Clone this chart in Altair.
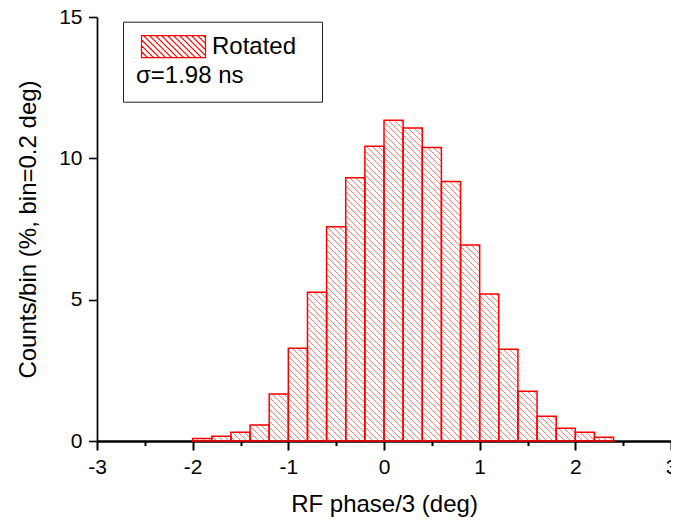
import math
import altair as alt
import pandas as pd

# ---------------- data ----------------
bin_lo = [-2.0, -1.8, -1.6, -1.4, -1.2, -1.0, -0.8, -0.6, -0.4, -0.2, 0.0,
          0.2, 0.4, 0.6, 0.8, 1.0, 1.2, 1.4, 1.6, 1.8, 2.0, 2.2]
counts = [0.09, 0.17, 0.31, 0.57, 1.66, 3.28, 5.26, 7.58, 9.31, 10.43, 11.35,
          11.07, 10.38, 9.18, 6.93, 5.20, 3.25, 1.76, 0.88, 0.45, 0.31, 0.13]
BIN_W = 0.2
series_name = "Rotated"
legend_note = "\u03c3=1.98 ns"
x_ticks = [-3, -2, -1, 0, 1, 2, 3]
x_minor = [-2.5, -1.5, -0.5, 0.5, 1.5, 2.5]
y_ticks = [0, 5, 10, 15]
x_title = "RF phase/3 (deg)"
y_title = "Counts/bin (%, bin=0.2 deg)"

# ---------------- layout / style ----------------
W, H = 574, 424
XDOM = [-3, 3]
YDOM = [0, 15]
FONT = "Liberation Sans"
RED = "#ff0000"
HATCH = 6.0  # px between hatch lines (horizontal)

sx = W / (XDOM[1] - XDOM[0])
sy = H / (YDOM[1] - YDOM[0])

bars = pd.DataFrame({
    "lo": bin_lo,
    "hi": [b + BIN_W for b in bin_lo],
    "v": counts,
    "series": series_name,
})

# hatch segments ("\\" pattern, 45 degrees in pixel space), clipped to each bar
segs = []
for lo, hi, v in zip(bars["lo"], bars["hi"], bars["v"]):
    u0 = (lo - XDOM[0]) * sx
    u1 = (hi - XDOM[0]) * sx
    hh = v * sy
    k = math.floor(u0 / HATCH) * HATCH
    while k < u1 + hh + HATCH:
        ua = max(u0, k - hh)
        ub = min(u1, k)
        if ub - ua > 0.3:
            segs.append({
                "x": XDOM[0] + ua / sx, "y": (k - ua) / sy,
                "x2": XDOM[0] + ub / sx, "y2": (k - ub) / sy,
            })
        k += HATCH
segdf = pd.DataFrame(segs)

# legend swatch path (unit = sqrt(size)/2 px)
SYM = 22.0
unit = SYM / 2
hw = 32.0 / unit
parts = [f"M{-hw:.3f},-1H{hw:.3f}V1H{-hw:.3f}Z"]
step = HATCH / unit
t = -hw - 2
while t < hw:
    xa = max(-hw, t)
    xb = min(hw, t + 2)
    if xb - xa > 0.02:
        parts.append(f"M{xa:.3f},{xa - t - 1:.3f}L{xb:.3f},{xb - t - 1:.3f}")
    t += step
# invisible move-to that widens the legend box to the reference's width
parts.append(f"M{133.0 / unit:.3f},0")
swatch_path = "".join(parts)

xscale = alt.Scale(domain=XDOM, nice=False, zero=False, padding=0)
yscale = alt.Scale(domain=YDOM, nice=False, padding=0)

x_axis = alt.Axis(
    values=sorted(x_ticks + x_minor),
    labelExpr="datum.value % 1 === 0 ? '' + datum.value : ''",
    tickSize={"condition": {"test": "datum.value % 1 !== 0", "value": 4.5}, "value": 9},
    tickWidth=2, domainWidth=2.4, domainColor="black", tickColor="black",
    labelFontSize=21, labelColor="black", labelPadding=6, labelFlush=False,
    labelOverlap=False, grid=False, orient="bottom",
    title=x_title, titleFontSize=24, titleFontWeight="normal", titleColor="black",
    titlePadding=15.5,
)
y_axis = alt.Axis(
    values=y_ticks, tickSize=8.5, tickWidth=1.6, domainWidth=1.7,
    domainColor="black", tickColor="black",
    labelFontSize=21, labelColor="black", labelPadding=6.5, grid=False,
    title=y_title, titleFontSize=24, titleFontWeight="normal", titleColor="black",
    titlePadding=18,
)

hatch = alt.Chart(segdf).mark_rule(color=RED, opacity=0.5, strokeWidth=1).encode(
    x=alt.X("x:Q", scale=xscale, axis=x_axis),
    y=alt.Y("y:Q", scale=yscale, axis=y_axis),
    x2="x2:Q",
    y2="y2:Q",
)

bar = alt.Chart(bars).mark_rect(fill="transparent", strokeWidth=1.5).encode(
    x=alt.X("lo:Q", scale=xscale, axis=x_axis),
    x2="hi:Q",
    y=alt.Y("v:Q", scale=yscale, axis=y_axis),
    y2=alt.datum(0),
    stroke=alt.Stroke(
        "series:N",
        scale=alt.Scale(range=[RED]),
        legend=alt.Legend(
            orient="none", legendX=26, legendY=4.7,
            strokeColor="#222", fillColor="white", padding=13,
            symbolType=swatch_path, symbolSize=SYM * SYM, symbolStrokeWidth=1.2,
            symbolFillColor="transparent", symbolOffset=25.5, labelOffset=26.5,
            labelFont=FONT, labelFontSize=24, labelColor="black",
            title=legend_note, titleOrient="bottom", titleAnchor="start",
            titleFont=FONT, titleFontSize=24, titleFontWeight="normal",
            titleColor="black", titlePadding=4.5,
        ),
    ),
)

chart = alt.layer(hatch, bar).properties(
    width=W, height=H,
    autosize=alt.AutoSizeParams(type="none"),
    padding={"left": 89, "top": 9, "right": 0, "bottom": 77},
).configure(font=FONT).configure_view(stroke=None)

chart.save("out.html", embed_options={"renderer": "svg", "actions": False})
